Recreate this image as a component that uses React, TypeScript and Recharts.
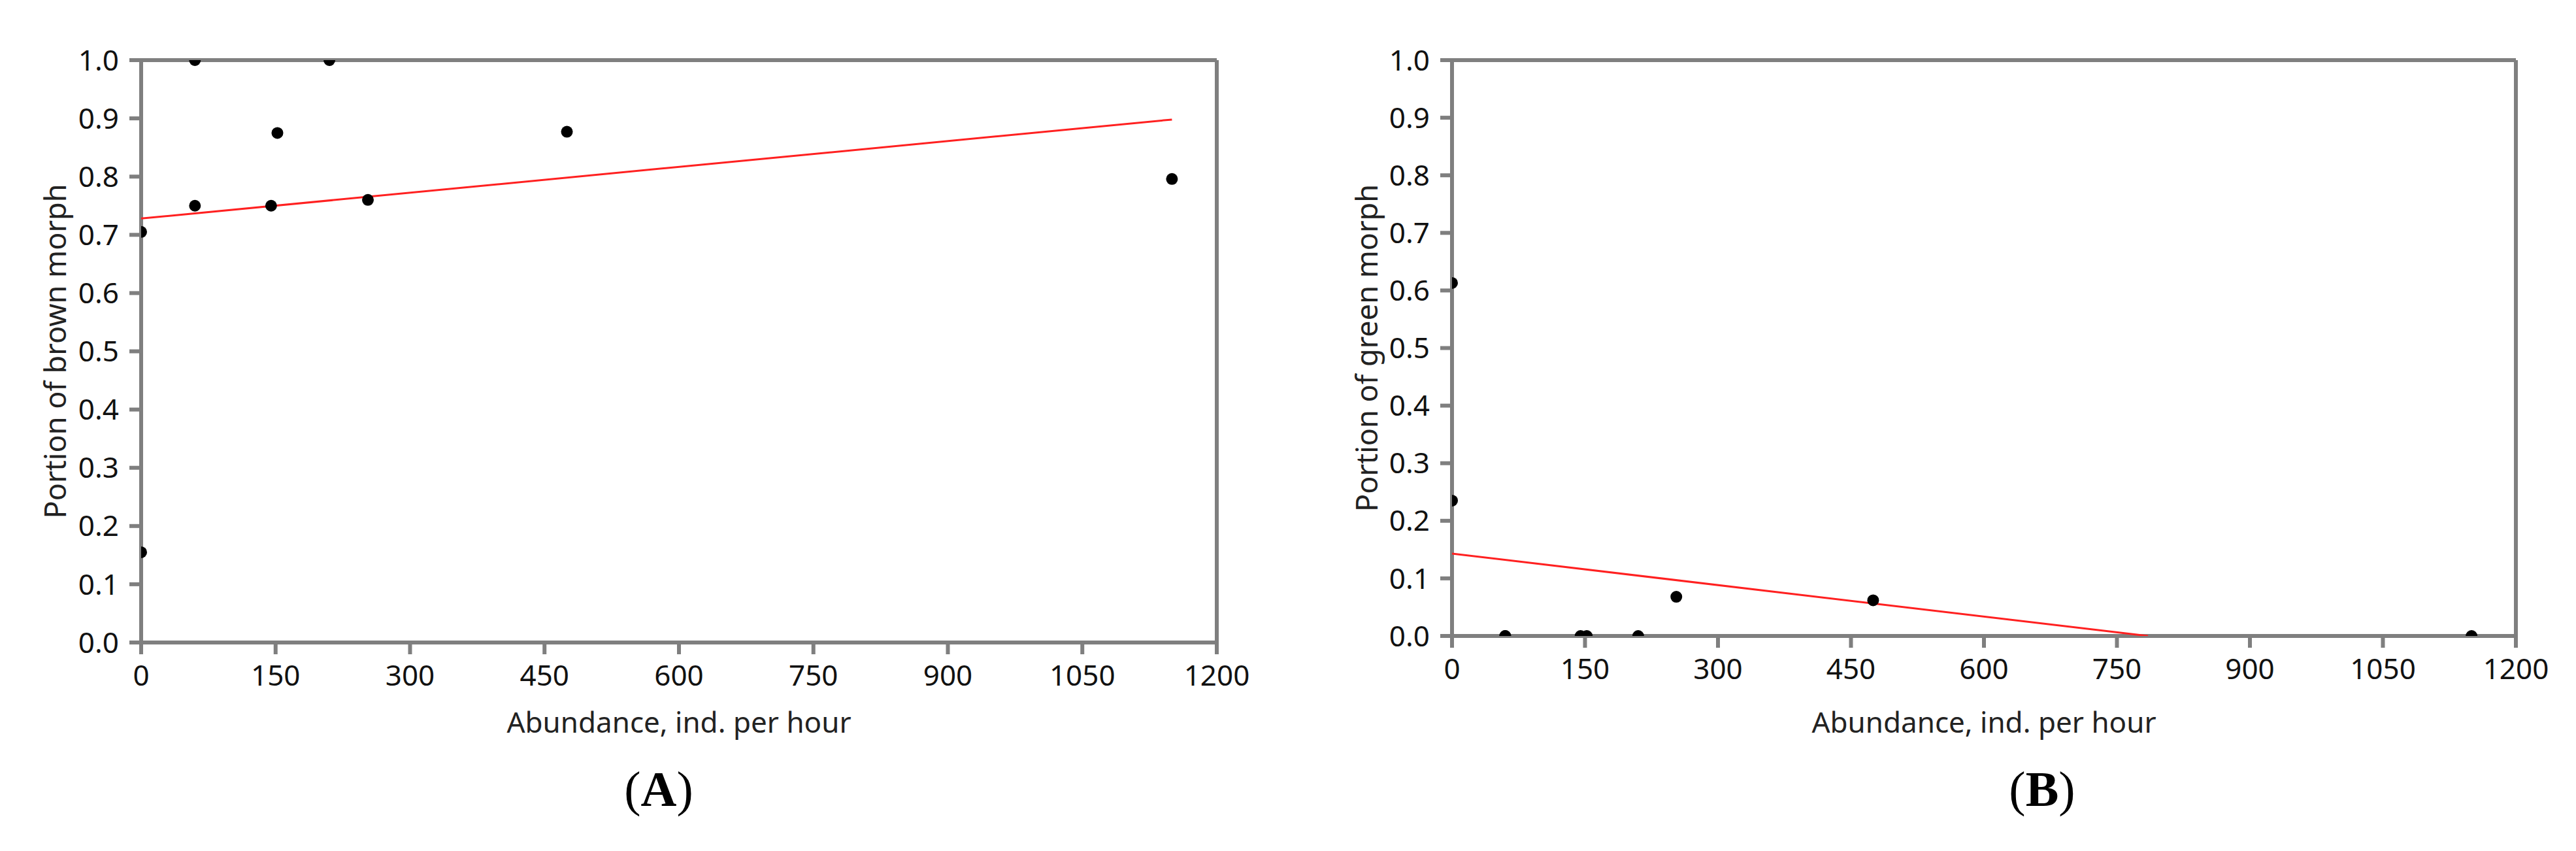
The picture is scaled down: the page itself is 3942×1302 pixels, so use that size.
import React from 'react';
import { ScatterChart, Scatter, XAxis, YAxis, ReferenceLine } from 'recharts';

// sampling sites: abundance (ind. per hour) and the share of each colour morph
const abundance = [0, 0, 60, 60, 145, 152, 210, 253, 475, 1150];
const brownShare = [0.705, 0.155, 1.0, 0.75, 0.75, 0.875, 1.0, 0.76, 0.877, 0.796];
const greenShare = [0.235, 0.613, 0, 0, 0, 0, 0, 0.068, 0.062, 0];

// fitted regression lines (end points)
const trendBrownX = [0, 1150];
const trendBrownY = [0.728, 0.898];
const trendGreenX = [0, 785];
const trendGreenY = [0.143, 0];

const xTicks = [0, 150, 300, 450, 600, 750, 900, 1050, 1200];
const yTicks = [0, 0.1, 0.2, 0.3, 0.4, 0.5, 0.6, 0.7, 0.8, 0.9, 1.0];

const AXIS = '#7f7f7f';
const FONT = '"Noto Sans", "Open Sans", sans-serif';

const zip = (xs: number[], ys: number[]) => xs.map((x, i) => ({ x, y: ys[i] }));

const Dot = (props: any) => <circle cx={props.cx} cy={props.cy} r={9} fill="#000" />;
const NoDot = () => <g />;

const XTitle = ({ viewBox, value, dy }: any) => (
  <text
    x={viewBox.x + viewBox.width / 2}
    y={viewBox.y + dy}
    textAnchor="middle"
    dominantBaseline="central"
    fontFamily={FONT}
    fontSize={44}
    fill="#222"
  >
    {value}
  </text>
);

const YTitle = ({ value, cx, cy }: any) => (
  <text
    x={cx}
    y={cy}
    transform={`rotate(-90 ${cx} ${cy})`}
    textAnchor="middle"
    dominantBaseline="central"
    fontFamily={FONT}
    fontSize={45}
    fill="#222"
  >
    {value}
  </text>
);

interface PanelProps {
  left: number;
  width: number;
  axisWidth: number;
  plotRight: number;
  plotBottom: number;
  points: Array<{ x: number; y: number }>;
  trend: Array<{ x: number; y: number }>;
  yTitle: string;
  yTitleX: number;
}

const Panel: React.FC<PanelProps> = ({ left, width, axisWidth, plotRight, plotBottom, points, trend, yTitle, yTitleX }) => {
  const height = 1302;
  const top = 92;
  const plotCenterY = (top + plotBottom) / 2;
  return (
    <div style={{ position: 'absolute', left, top: 0 }}>
      <ScatterChart
        width={width}
        height={height}
        margin={{ top, right: width - plotRight, bottom: 0, left: 0 }}
      >
        <XAxis
          type="number"
          dataKey="x"
          domain={[0, 1200]}
          ticks={xTicks}
          interval={0}
          allowDataOverflow
          height={height - plotBottom}
          tickSize={18}
          tickMargin={17}
          axisLine={{ stroke: AXIS, strokeWidth: 6 }}
          tickLine={{ stroke: AXIS, strokeWidth: 6 }}
          tick={{ fill: '#111', fontSize: 44, fontFamily: FONT }}
          label={<XTitle value="Abundance, ind. per hour" dy={1104 - plotBottom} />}
        />
        <YAxis
          type="number"
          dataKey="y"
          domain={[0, 1]}
          ticks={yTicks}
          interval={0}
          allowDataOverflow
          width={axisWidth}
          tickSize={18}
          tickMargin={16}
          tickFormatter={(v: number) => v.toFixed(1)}
          axisLine={{ stroke: AXIS, strokeWidth: 6 }}
          tickLine={{ stroke: AXIS, strokeWidth: 6 }}
          tick={{ fill: '#111', fontSize: 44, fontFamily: FONT }}
          label={<YTitle value={yTitle} cx={yTitleX} cy={plotCenterY} />}
        />
        <ReferenceLine y={1} stroke={AXIS} strokeWidth={6} />
        <ReferenceLine x={1200} stroke={AXIS} strokeWidth={6} />
        <Scatter
          data={trend}
          shape={NoDot}
          line={{ stroke: '#ff2020', strokeWidth: 3 }}
          isAnimationActive={false}
        />
        <Scatter data={points} shape={Dot} isAnimationActive={false} />
      </ScatterChart>
    </div>
  );
};

const PanelTag = ({ letter, x }: { letter: string; x: number }) => (
  <div
    style={{
      position: 'absolute',
      left: x - 100,
      width: 200,
      top: 1207 - 45,
      height: 90,
      lineHeight: '90px',
      textAlign: 'center',
      fontFamily: '"Liberation Serif", "DejaVu Serif", serif',
      fontSize: 76,
      color: '#000',
    }}
  >
    (<b>{letter}</b>)
  </div>
);

export default function App() {
  return (
    <div style={{ position: 'absolute', left: 0, top: 0, width: 3942, height: 1302, background: '#fff', overflow: 'hidden' }}>
      <Panel
        left={0}
        width={1960}
        axisWidth={216}
        plotRight={1862}
        plotBottom={983}
        points={zip(abundance, brownShare)}
        trend={zip(trendBrownX, trendBrownY)}
        yTitle="Portion of brown morph"
        yTitleX={83}
      />
      <Panel
        left={2000}
        width={1942}
        axisWidth={222}
        plotRight={1850}
        plotBottom={973}
        points={zip(abundance, greenShare)}
        trend={zip(trendGreenX, trendGreenY)}
        yTitle="Portion of green morph"
        yTitleX={90}
      />
      <PanelTag letter="A" x={1008} />
      <PanelTag letter="B" x={3125} />
    </div>
  );
}
